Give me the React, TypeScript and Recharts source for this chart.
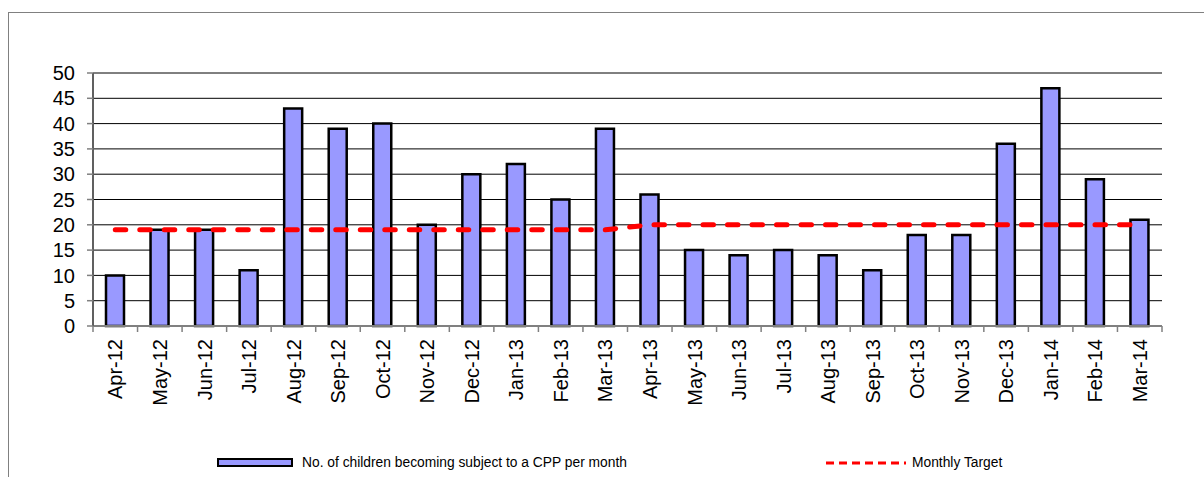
import React from 'react';
import { Bar, CartesianGrid, ComposedChart, Legend, Line, XAxis, YAxis } from 'recharts';

const MONTHS = [
  'Apr-12', 'May-12', 'Jun-12', 'Jul-12', 'Aug-12', 'Sep-12', 'Oct-12', 'Nov-12',
  'Dec-12', 'Jan-13', 'Feb-13', 'Mar-13', 'Apr-13', 'May-13', 'Jun-13', 'Jul-13',
  'Aug-13', 'Sep-13', 'Oct-13', 'Nov-13', 'Dec-13', 'Jan-14', 'Feb-14', 'Mar-14',
];
const CHILDREN = [10, 19, 19, 11, 43, 39, 40, 20, 30, 32, 25, 39, 26, 15, 14, 15, 14, 11, 18, 18, 36, 47, 29, 21];
const TARGET = [19, 19, 19, 19, 19, 19, 19, 19, 19, 19, 19, 19, 20, 20, 20, 20, 20, 20, 20, 20, 20, 20, 20, 20];
const Y_TICKS = [0, 5, 10, 15, 20, 25, 30, 35, 40, 45, 50];

const BAR_NAME = 'No. of children becoming subject to a CPP per month';
const LINE_NAME = 'Monthly Target';

const FONT = 'Arial, "Liberation Sans", sans-serif';
const AXIS_GRAY = '#808080';

const CHART_W = 1195;
const CHART_H = 464;
const MARGIN = { top: 60, right: 42, left: 0, bottom: 6 };
const Y_AXIS_W = 84;
const PLOT_W = CHART_W - MARGIN.left - MARGIN.right - Y_AXIS_W;
const HALF_BAND = PLOT_W / MONTHS.length / 2;

const rows = MONTHS.map((month, i) => ({
  month,
  children: CHILDREN[i],
  target: TARGET[i],
}));

function MonthTick(props: any) {
  const { x, y, payload, index } = props;
  const last = index === MONTHS.length - 1;
  return (
    <g>
      <line x1={x - HALF_BAND} x2={x - HALF_BAND} y1={y} y2={y + 6} stroke={AXIS_GRAY} strokeWidth={1.5} />
      {last ? (
        <line x1={x + HALF_BAND} x2={x + HALF_BAND} y1={y} y2={y + 6} stroke={AXIS_GRAY} strokeWidth={1.5} />
      ) : null}
      <text
        transform={`translate(${x},${y + 13}) rotate(-90)`}
        textAnchor="end"
        dy="0.36em"
        fill="#000"
        fontSize={20}
        fontFamily={FONT}
      >
        {payload.value}
      </text>
    </g>
  );
}

function ChartLegend() {
  return (
    <div style={{ position: 'relative', width: CHART_W, height: 16, fontFamily: FONT, fontSize: 13.8, color: '#000' }}>
      <div
        style={{
          position: 'absolute',
          left: 208,
          top: 3,
          width: 72,
          height: 5,
          background: '#9999FF',
          border: '2.5px solid #000',
        }}
      />
      <div style={{ position: 'absolute', left: 293, top: 0, lineHeight: '16px', whiteSpace: 'nowrap' }}>{BAR_NAME}</div>
      <svg style={{ position: 'absolute', left: 816, top: 0 }} width={82} height={16}>
        <line x1={1} x2={81} y1={8} y2={8} stroke="#FF0000" strokeWidth={3} strokeDasharray="8 5" />
      </svg>
      <div style={{ position: 'absolute', left: 903, top: 0, lineHeight: '16px', whiteSpace: 'nowrap' }}>{LINE_NAME}</div>
    </div>
  );
}

export default function App() {
  return (
    <div
      style={{
        position: 'absolute',
        left: 8,
        top: 12,
        width: 1196,
        height: 465,
        boxSizing: 'border-box',
        borderTop: `1px solid ${AXIS_GRAY}`,
        borderLeft: `1px solid ${AXIS_GRAY}`,
        background: '#fff',
      }}
    >
      <ComposedChart width={CHART_W} height={CHART_H} data={rows} margin={MARGIN}>
        <CartesianGrid vertical={false} stroke="#000" strokeWidth={1} />
        <XAxis
          dataKey="month"
          interval={0}
          height={129}
          tickSize={0}
          tickMargin={0}
          tick={<MonthTick />}
          axisLine={{ stroke: AXIS_GRAY, strokeWidth: 2 }}
        />
        <XAxis xAxisId="top" dataKey="month" orientation="top" height={0} tick={false} tickLine={false} axisLine={{ stroke: AXIS_GRAY, strokeWidth: 2 }} />
        <YAxis
          width={Y_AXIS_W}
          domain={[0, 50]}
          ticks={Y_TICKS}
          interval={0}
          tickSize={6}
          tickMargin={12}
          tick={{ fill: '#000', fontSize: 20, fontFamily: FONT }}
          tickLine={{ stroke: AXIS_GRAY, strokeWidth: 1.5 }}
          axisLine={{ stroke: '#606060', strokeWidth: 2 }}
        />
        <YAxis yAxisId="right" orientation="right" width={0} domain={[0, 50]} tick={false} tickLine={false} axisLine={{ stroke: AXIS_GRAY, strokeWidth: 2 }} />
        <Legend verticalAlign="bottom" align="left" content={<ChartLegend />} wrapperStyle={{ left: 0, width: CHART_W }} />
        <Bar dataKey="children" name={BAR_NAME} barSize={18} fill="#9999FF" stroke="#000" strokeWidth={2.5} isAnimationActive={false} />
        <Line
          dataKey="target"
          name={LINE_NAME}
          type="linear"
          stroke="#FF0000"
          strokeWidth={5}
          strokeDasharray="10.5 14"
          strokeLinecap="round"
          dot={false}
          activeDot={false}
          isAnimationActive={false}
        />
      </ComposedChart>
    </div>
  );
}
